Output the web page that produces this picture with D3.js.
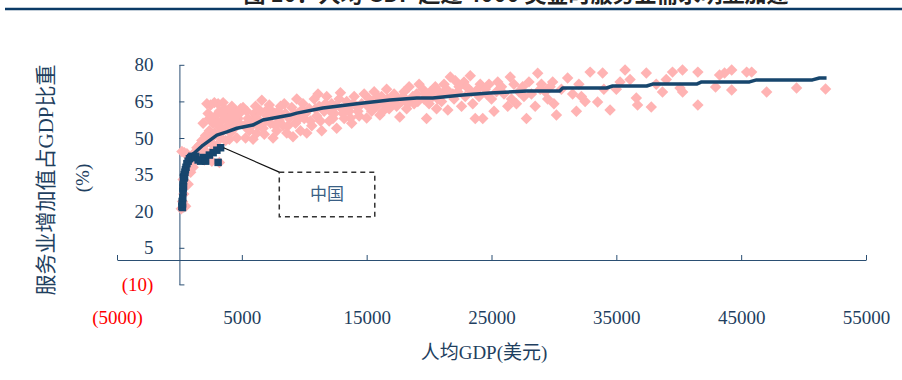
<!DOCTYPE html>
<html>
<head>
<meta charset="utf-8">
<script src="https://cdn.jsdelivr.net/npm/d3@7"></script>
<style>
  body { margin: 0; background: #fff; }
  svg { display: block; }
  .tick text { font-family: "Liberation Serif", "Times New Roman", serif; }
</style>
</head>
<body>
<div id="chart"></div>
<script>
// world sample: [GDP per capita (USD), services share of GDP (%)]
var worldPoints = [
  [150,21],[250,24],[350,27],[450,30],[300,33],[550,36],[650,38],[200,44.5],[400,44],[600,43.5],
  [800,42],[1000,40],[1200,44],[1400,46],[900,36],[700,31],[500,22],[1100,38],[1300,41],
  [1600,47],[1700,43],[1800,49],[2000,45],[2100,51],[2200,48],[2400,53],[2500,44],[2600,50],[2700,56],
  [2800,52],[2900,59],[3000,47],[3100,55],[3200,61],[3300,50],[3400,57],[3500,53],[3600,62],[3700,49],
  [3800,58],[3900,55],[4000,60],[4100,52],[4200,63],[4300,57],[4400,54],[4500,61],[4600,50],[4700,58],
  [4800,56],[4900,62],[2200,64],[2500,63.5],[2800,64.5],[3100,64],[3500,64.5],[2000,41],[2600,40.5],
  [3200,40],[4000,49.5],[1900,56],[2300,60],
  [1500,44],[1800,46],[2300,50],[2700,47],[3300,54],[3600,59],[4100,57],[4500,55],[4800,60],[3000,57],
  [2400,58],[4300,60],
  [5100,62.5],[5300,50],[5500,58],[5600,53],[5800,55],[6000,60],[6100,63],[6200,52],[6400,57],[6500,61],
  [6700,54],[6800,51.5],[7000,59],[7100,62],[7300,56],[7500,50],[7600,60],[7800,53],[8000,57],[8100,63],
  [8300,55],[8500,60],[8600,52],[8800,58],[9000,62.5],[9100,50.5],[9300,56],[9500,60],[9700,53],[9900,64],
  [5900,49.5],[7200,63.5],[8400,64],[6600,65.5],[9400,66],
  [5200,55],[5400,61],[5700,57],[6300,55],[6900,57],[7400,61],[7700,55],[8200,59],[8700,55],[9200,60],
  [9600,58],[6200,58],[7900,61],[9800,61.5],
  [10000,58],[10200,52],[10400,62],[10600,55],[10800,66],[11000,59],[11200,63],[11400,53],[11600,61],
  [11800,67],[12000,57],[12200,64],[12400,60],[12600,54],[12800,66],[13000,62],[13200,58],[13400,65],
  [13600,61],[13800,56],[14000,67],[14200,63],[14400,59],[11100,68],[12900,68.5],[13700,58.2],
  [10100,60],[10500,57],[10900,62],[11300,57],[11700,64],[12100,61],[12500,63],[13100,60],[13500,63],
  [13900,64],[14300,61],[12300,58],
  [14600,64],[14800,68],[15000,58.2],[15200,66],[15400,61],[15600,69],[15800,63],[16060,59.4],[16200,67],
  [16400,64],[16600,70],[16800,62],[17000,66],[17200,68],[17400,63],[17650,58.6],[17800,65],[18000,69],
  [18200,62],[18400,71],[18600,66],[18800,64],[19000,68],[19200,72],
  [15100,63],[15500,65],[15900,67],[16300,61],[16700,66],[17100,64],[17500,66],[17900,67],[18300,64],
  [18700,67],[19100,65],
  [19500,70],[19800,58],[20000,64],[20300,67],[20600,62],[20800,69],[21000,65],[21200,72],[21500,61.5],
  [21700,75],[22000,66],[22300,69],[22600,63],[22800,73],[23000,71],[23300,75.5],[23500,64],[23700,58],
  [24000,67],[24300,58],[19600,66],[24100,72],[22100,73.5],[20500,71],
  [19700,68],[20100,69],[20700,66],[21100,68],[21400,70],[21900,68],[22400,71],[22900,67],[23400,69],
  [23900,70],
  [24500,70],[24800,72],[25000,66],[25200,61],[25500,73],[26000,68],[26300,63],[26500,75],[26800,72],
  [27000,64],[27200,69],[27500,71],[27800,58],[28200,68],[28500,63],[28700,76.5],[29000,72],[29300,69],
  [29500,66],[29900,73],[30000,64],[30200,59.4],[30600,70],[31100,74.6],
  [24600,68],[25400,69],[25800,71],[26600,66],[27600,67],[28000,73],[28900,70],[29700,71],
  [31500,68],[31800,61],[32000,72],[32200,67],[32500,65],[32900,77],[33500,64.8],[33900,76.6],[34000,70],
  [34500,61.5],[35000,70],[35300,73],[35700,77.9],[36100,74],[36600,66.4],[36700,63.5],[37400,76.6],
  [37800,62.7],[38200,72],[38700,68.9],[39000,74],[39500,77],[40100,70.5],[40300,77.9],
  [40310,68.9],[41530,77],[41530,63.5],[42950,70.9],[43270,75.8],[43670,76.6],[44240,77.9],[44240,69.7],
  [45440,77],[45840,77],[47040,68.9],[49440,70.5],[51760,70.1]
];

// China, one point per year
var chinaPoints = [
  [200,22],[220,24],[240,21.5],[250,23],[270,25.5],[290,28],[300,29.5],[310,31],[320,32.5],[330,30],
  [340,34],[360,33.5],[380,35],[410,34],[440,36],[480,37],[530,38],[600,39.5],[700,40.5],[800,41.5],
  [900,42],[1000,42.5],[1100,42],[1300,42.5],[1500,41],[1700,40.5],[1900,42],[2100,40.5],[2400,43],
  [2700,44],[3000,45],[3100,40],[3300,46]
];

// trend line
var trendPoints = [
  [840,42.2],[1880,47],[3000,51.2],[3800,52.5],[4600,54],[5880,55.3],[6690,57.4],[8850,59.4],[9400,60.2],
  [11490,62.3],[14210,64],[16850,65.6],[19010,66.4],[20290,66.4],[22700,67.6],[24860,68.4],[27820,69.3],
  [30460,69.3],[30700,70.5],[34220,70.5],[34700,71.3],[37430,71.3],[37910,72.1],[41430,72.1],[41830,73],
  [45670,73],[46230,73.8],[50710,73.8],[51270,74.6],[51840,74.6]
];

var xTicks = [-5000, 5000, 15000, 25000, 35000, 45000, 55000];
var yTicks = [-10, 5, 20, 35, 50, 65, 80];

var title = "图 10：人均 GDP 超过 4000 美金时服务业需求明显加速";
var xTitle = "人均GDP(美元)";
var yTitle = "服务业增加值占GDP比重";
var yUnit = "(%)";
var calloutText = "中国";

var width = 902, height = 380;
var axisColor = "#2b4f73";
var textColor = "#1f3f60";
var pink = "#ffb3b3";
var navy = "#17466d";

var svg = d3.select("#chart").append("svg")
  .attr("width", width)
  .attr("height", height);

var x = d3.scaleLinear().domain([-5000, 55000]).range([117, 866]);
var y = d3.scaleLinear().domain([-10, 80]).range([284.4, 64.8]);

// title (cut at the top, as in the source) and rule
svg.append("text")
  .attr("x", 516)
  .attr("y", 2)
  .attr("text-anchor", "middle")
  .style("font-family", "'Noto Sans CJK SC', sans-serif")
  .style("font-weight", "bold")
  .style("font-size", "22px")
  .style("fill", "#222")
  .text(title);

svg.append("line")
  .attr("x1", 5).attr("x2", 902)
  .attr("y1", 9).attr("y2", 9)
  .attr("stroke", "#0b3a66")
  .attr("stroke-width", 2.5);

var fmt = function (d) { return d < 0 ? "(" + Math.abs(d) + ")" : d; };

// x axis along y = 0, labels pushed low
var gx = svg.append("g")
  .attr("transform", "translate(0," + y(0) + ")")
  .call(d3.axisBottom(x).tickValues(xTicks).tickFormat(fmt)
    .tickSizeInner(-5).tickSizeOuter(0).tickPadding(51));

// y axis along x = 0
var gy = svg.append("g")
  .attr("transform", "translate(" + x(0) + ",0)")
  .call(d3.axisLeft(y).tickValues(yTicks).tickFormat(fmt)
    .tickSizeInner(-5).tickSizeOuter(0).tickPadding(26));

[gx, gy].forEach(function (g) {
  g.select(".domain").attr("stroke", axisColor);
  g.selectAll(".tick line").attr("stroke", axisColor);
  g.selectAll(".tick text")
    .style("font-size", "19px")
    .attr("fill", function (d) { return d < 0 ? "#ff0000" : textColor; });
});

// pink diamonds
var diamond = d3.symbol().type(d3.symbolSquare).size(66);
svg.append("g")
  .selectAll("path")
  .data(worldPoints)
  .enter()
  .append("path")
  .attr("d", diamond)
  .attr("transform", function (d) { return "translate(" + x(d[0]) + "," + y(d[1]) + ") rotate(45)"; })
  .attr("fill", pink);

// trend line
svg.append("path")
  .datum(trendPoints)
  .attr("fill", "none")
  .attr("stroke", navy)
  .attr("stroke-width", 3.5)
  .attr("stroke-linejoin", "round")
  .attr("d", d3.line().x(function (d) { return x(d[0]); }).y(function (d) { return y(d[1]); }));

// China squares
var square = d3.symbol().type(d3.symbolSquare).size(56);
svg.append("g")
  .selectAll("path")
  .data(chinaPoints)
  .enter()
  .append("path")
  .attr("d", square)
  .attr("transform", function (d) { return "translate(" + x(d[0]) + "," + y(d[1]) + ")"; })
  .attr("fill", navy);

// callout
var last = chinaPoints[chinaPoints.length - 1];
var box = { x0: 8000, x1: 15650, y0: 36, y1: 17.7 };
svg.append("line")
  .attr("x1", x(last[0]) + 3).attr("y1", y(last[1]))
  .attr("x2", x(box.x0)).attr("y2", y(box.y0))
  .attr("stroke", "#111")
  .attr("stroke-width", 1.2);

svg.append("rect")
  .attr("x", x(box.x0)).attr("y", y(box.y0))
  .attr("width", x(box.x1) - x(box.x0))
  .attr("height", y(box.y1) - y(box.y0))
  .attr("fill", "none")
  .attr("stroke", "#333")
  .attr("stroke-width", 1.5)
  .attr("stroke-dasharray", "5,4");

svg.append("text")
  .attr("x", (x(box.x0) + x(box.x1)) / 2)
  .attr("y", (y(box.y0) + y(box.y1)) / 2)
  .attr("dy", "0.35em")
  .attr("text-anchor", "middle")
  .style("font-family", "'Noto Sans CJK SC', sans-serif")
  .style("font-size", "17px")
  .style("fill", "#3a5f85")
  .text(calloutText);

// axis titles
svg.append("text")
  .attr("transform", "translate(" + x(24400) + ",352)")
  .attr("text-anchor", "middle")
  .attr("dy", "0.35em")
  .style("font-family", "'Liberation Serif', 'Noto Sans CJK SC', serif")
  .style("font-size", "19px")
  .style("fill", textColor)
  .text(xTitle);

svg.append("text")
  .attr("transform", "translate(46,180) rotate(-90)")
  .attr("text-anchor", "middle")
  .attr("dy", "0.35em")
  .style("font-family", "'Liberation Serif', 'Noto Sans CJK SC', serif")
  .style("font-size", "21px")
  .style("fill", textColor)
  .text(yTitle);

svg.append("text")
  .attr("transform", "translate(82,178) rotate(-90)")
  .attr("text-anchor", "middle")
  .attr("dy", "0.35em")
  .style("font-family", "'Liberation Serif', serif")
  .style("font-size", "19px")
  .style("fill", textColor)
  .text(yUnit);
</script>
</body>
</html>
